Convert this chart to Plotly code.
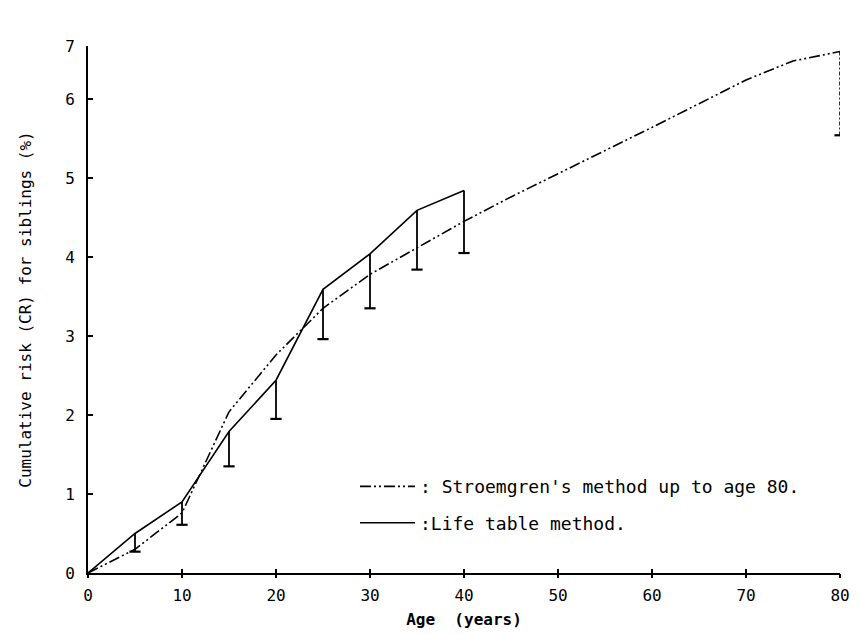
import plotly.graph_objects as go

# Life table method (solid) with lower limits
life_age = [0, 5, 10, 15, 20, 25, 30, 35, 40]
life_cr = [0.0, 0.50, 0.90, 1.79, 2.44, 3.59, 4.04, 4.59, 4.84]
life_lower = [0.0, 0.27, 0.61, 1.35, 1.95, 2.96, 3.35, 3.84, 4.05]

# Stroemgren's method (dash-dot) up to age 80
str_age = [0, 5, 10, 15, 20, 25, 30, 35, 40, 45, 50, 55, 60, 65, 70, 75, 80]
str_cr = [0.0, 0.30, 0.76, 2.04, 2.76, 3.35, 3.78, 4.11, 4.45, 4.76, 5.05, 5.35,
          5.64, 5.94, 6.24, 6.48, 6.60]
str_end_age = [80, 80]
str_end_cr = [6.60, 5.54]

x_ticks = [0, 10, 20, 30, 40, 50, 60, 70, 80]
y_tickvals = [0, 1, 2, 3, 4, 5, 6, 6.67]
y_ticktext = ["0", "1", "2", "3", "4", "5", "6", "7"]

DASH = "11px,3px,2px,3px,2px,3px"
FONT = "DejaVu Sans Mono"

# vertical segments for life-table lower limits
seg_x, seg_y = [], []
for a, c, l in zip(life_age[1:], life_cr[1:], life_lower[1:]):
    seg_x += [a, a, None]
    seg_y += [c, l, None]

fig = go.Figure()

fig.add_trace(go.Scatter(
    x=str_age, y=str_cr, mode="lines",
    line=dict(color="black", width=1.6, dash=DASH),
    name=": Stroemgren's method up to age 80.", legendgroup="a",
))
fig.add_trace(go.Scatter(
    x=life_age, y=life_cr, mode="lines",
    line=dict(color="black", width=1.6),
    name=":Life table method.", legendgroup="b",
))
fig.add_trace(go.Scatter(
    x=seg_x, y=seg_y, mode="lines",
    line=dict(color="black", width=1.8),
    showlegend=False, hoverinfo="skip",
))
fig.add_trace(go.Scatter(
    x=life_age[1:], y=life_lower[1:], mode="markers",
    marker=dict(symbol="line-ew", size=8, line=dict(color="black", width=2.2)),
    showlegend=False, hoverinfo="skip",
))
# dash-dot lower limit at age 80
fig.add_trace(go.Scatter(
    x=str_end_age, y=str_end_cr, mode="lines",
    line=dict(color="black", width=1.6, dash="4px,2px,2px,2px"),
    showlegend=False, hoverinfo="skip",
))
fig.add_trace(go.Scatter(
    x=str_end_age[1:], y=str_end_cr[1:], mode="markers", xaxis="x2",
    marker=dict(symbol="line-ew", size=8, line=dict(color="black", width=2.2)),
    showlegend=False, hoverinfo="skip",
))

fig.update_layout(
    width=852, height=626,
    margin=dict(l=80, r=20, t=38, b=61),
    paper_bgcolor="white", plot_bgcolor="white",
    font=dict(family=FONT, color="black", size=16),
    showlegend=True,
    legend=dict(
        x=0.355, y=0.199, xanchor="left", yanchor="top",
        bgcolor="rgba(0,0,0,0)", font=dict(family=FONT, size=18),
        itemwidth=55, tracegroupgap=10, traceorder="grouped",
    ),
    xaxis=dict(
        range=[0, 80], tickvals=x_ticks, showgrid=False, zeroline=False,
        showline=True, linecolor="black", linewidth=1.6,
        ticks="inside", ticklen=4, tickwidth=1.6, tickcolor="black",
        tickfont=dict(family=FONT, size=16), ticklabelstandoff=7,
        automargin=False,
        title=dict(text="<b>Age  (years)</b>", font=dict(family=FONT, size=16), standoff=10),
    ),
    xaxis2=dict(
        range=[0, 80], tickvals=x_ticks, overlaying="x", anchor="y",
        side="bottom", showgrid=False, zeroline=False, showline=False,
        ticks="outside", ticklen=4, tickwidth=1.6, tickcolor="black",
        showticklabels=False, automargin=False,
    ),
    yaxis=dict(
        range=[0, 6.67], tickvals=y_tickvals, ticktext=y_ticktext,
        showgrid=False, zeroline=False,
        showline=True, linecolor="black", linewidth=1.6,
        ticks="inside", ticklen=5, tickwidth=1.6, tickcolor="black",
        tickfont=dict(family=FONT, size=16), ticklabelstandoff=8,
        automargin=False,
        title=dict(text="Cumulative risk (CR) for siblings (%)",
                   font=dict(family=FONT, size=16), standoff=30),
    ),
)

fig.write_html("out.html")
